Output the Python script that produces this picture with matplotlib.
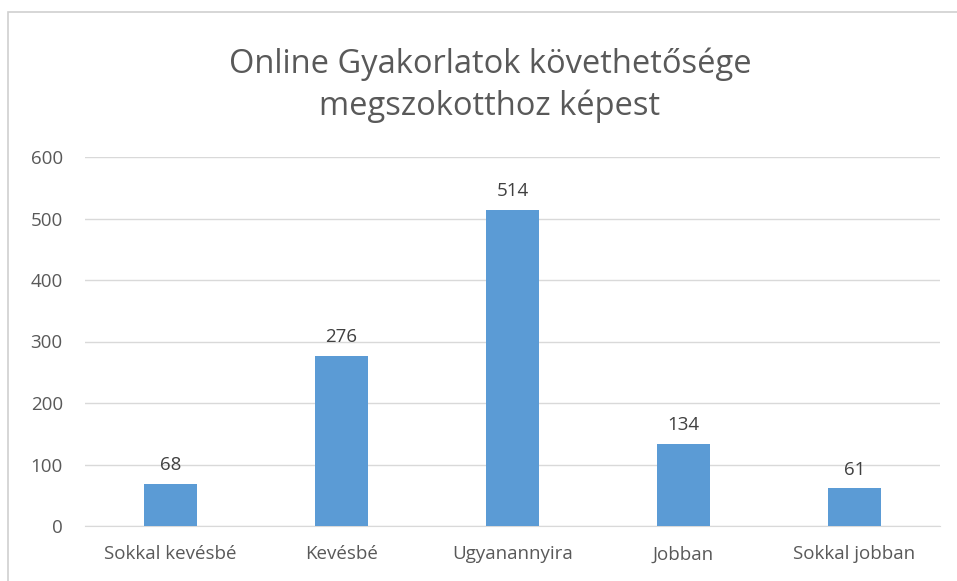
import matplotlib.pyplot as plt
from matplotlib.patches import Rectangle

#--------------------------------------------------------------------------------------------------------------------
# Data
#--------------------------------------------------------------------------------------------------------------------
categories = ['Sokkal kevésbé', 'Kevésbé', 'Ugyanannyira', 'Jobban', 'Sokkal jobban']
values     = [68, 276, 514, 134, 61]
yticks     = [0, 100, 200, 300, 400, 500, 600]
title      = 'Online Gyakorlatok követhetősége\nmegszokotthoz képest'

plt.rcParams['font.family'] = ['Open Sans', 'DejaVu Sans']

#--------------------------------------------------------------------------------------------------------------------
# Figure
#--------------------------------------------------------------------------------------------------------------------
W, H = 957, 581
fig = plt.figure(figsize=(W/100, H/100), dpi=100)
ax = fig.add_axes([85/W, 1-526/H, (940-85)/W, (526-157)/H])

# chart frame (cut off at right and bottom)
fig.patches.append(Rectangle((8/W, -0.1), 1.1, 1-12/H+0.1, transform=fig.transFigure,
                             fill=False, edgecolor='#d0d0d0', linewidth=1.2))

x = range(len(categories))
bars = ax.bar(x, values, width=0.315, color='#5b9bd5', zorder=3)
for xi, v in zip(x, values):
    ax.text(xi, v + 16, str(v), ha='center', va='bottom', fontsize=13.5, color='#404040')

ax.set_xlim(-0.5, 4.5)
ax.set_ylim(0, 600)
ax.set_yticks(yticks)
ax.set_xticks(list(x))
ax.set_xticklabels(categories)
ax.tick_params(axis='both', length=0, labelsize=13.5, labelcolor='#595959')
ax.tick_params(axis='y', pad=16)
ax.tick_params(axis='x', pad=14)
ax.yaxis.grid(True, color='#d9d9d9', linewidth=1.0, zorder=0)
for s in ax.spines.values():
    s.set_visible(False)
ax.spines['bottom'].set_visible(True)
ax.spines['bottom'].set_color('#d9d9d9')

fig.text(490/W, 1-85/H, title, ha='center', va='center', fontsize=23.5,
         color='#595959', linespacing=1.35)

fig.savefig('out.png', dpi=100)
